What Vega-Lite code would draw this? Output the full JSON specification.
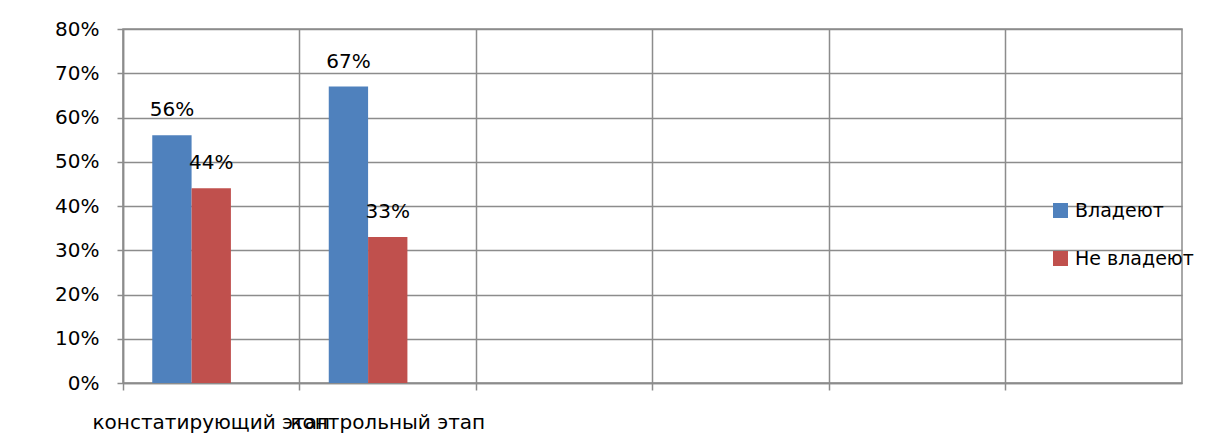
{
  "$schema": "https://vega.github.io/schema/vega-lite/v6.json",
  "width": 1059,
  "height": 354,
  "autosize": {"type": "none"},
  "padding": {"left": 123, "top": 29, "right": 41, "bottom": 63},
  "background": "white",
  "config": {
    "font": "DejaVu Sans",
    "view": {"stroke": "#8c8c8c", "strokeWidth": 1.5},
    "axis": {"labelFont": "DejaVu Sans", "labelColor": "black", "labelFontSize": 20, "gridColor": "#8c8c8c", "gridWidth": 1.5, "gridOpacity": 1, "domainColor": "#8c8c8c", "domainWidth": 1.5, "tickColor": "#8c8c8c", "tickWidth": 1.5, "title": null, "labelLimit": 0},
    "legend": {"labelFont": "DejaVu Sans", "labelFontSize": 19, "labelColor": "black", "labelLimit": 0}
  },
  "data": {
    "values": [
      {"stage": "констатирующий этап", "group": "Владеют", "value": 0.56},
      {"stage": "констатирующий этап", "group": "Не владеют", "value": 0.44},
      {"stage": "контрольный этап", "group": "Владеют", "value": 0.67},
      {"stage": "контрольный этап", "group": "Не владеют", "value": 0.33}
    ]
  },
  "encoding": {
    "x": {
      "field": "stage",
      "type": "nominal",
      "sort": null,
      "scale": {"domain": ["констатирующий этап", "контрольный этап", "c3", "c4", "c5", "c6"], "paddingInner": 0, "paddingOuter": 0},
      "axis": {"labelAngle": 0, "grid": true, "bandPosition": 0, "tickSize": 7, "labelPadding": 22, "labelExpr": "indexof(['c3','c4','c5','c6'], datum.value) >= 0 ? '' : datum.value", "labelOverlap": false, "labelBound": false, "labelFlush": false}
    },
    "xOffset": {
      "field": "group",
      "type": "nominal",
      "scale": {"domain": ["Владеют", "Не владеют", "x3"], "paddingInner": 0, "paddingOuter": 0.744}
    },
    "y": {
      "field": "value",
      "type": "quantitative",
      "scale": {"domain": [0, 0.8], "nice": false},
      "axis": {"format": ".0%", "values": [0, 0.1, 0.2, 0.3, 0.4, 0.5, 0.6, 0.7, 0.8], "tickSize": 6, "labelPadding": 18, "labelOverlap": false, "labelBound": false, "domain": true}
    }
  },
  "layer": [
    {
      "mark": {"type": "bar"},
      "encoding": {
        "color": {
          "field": "group",
          "type": "nominal",
          "scale": {"domain": ["Владеют", "Не владеют"], "range": ["#4F81BD", "#C0504D"]},
          "legend": {"title": null, "orient": "none", "legendX": 928, "legendY": 172, "symbolType": "square", "symbolSize": 225, "symbolStrokeWidth": 0, "symbolOpacity": 1, "rowPadding": 28, "labelOffset": 5}
        }
      }
    },
    {
      "mark": {"type": "text", "baseline": "alphabetic", "dy": -19, "fontSize": 20, "color": "black", "font": "DejaVu Sans"},
      "encoding": {
        "text": {"field": "value", "type": "quantitative", "format": ".0%"}
      }
    }
  ]
}
